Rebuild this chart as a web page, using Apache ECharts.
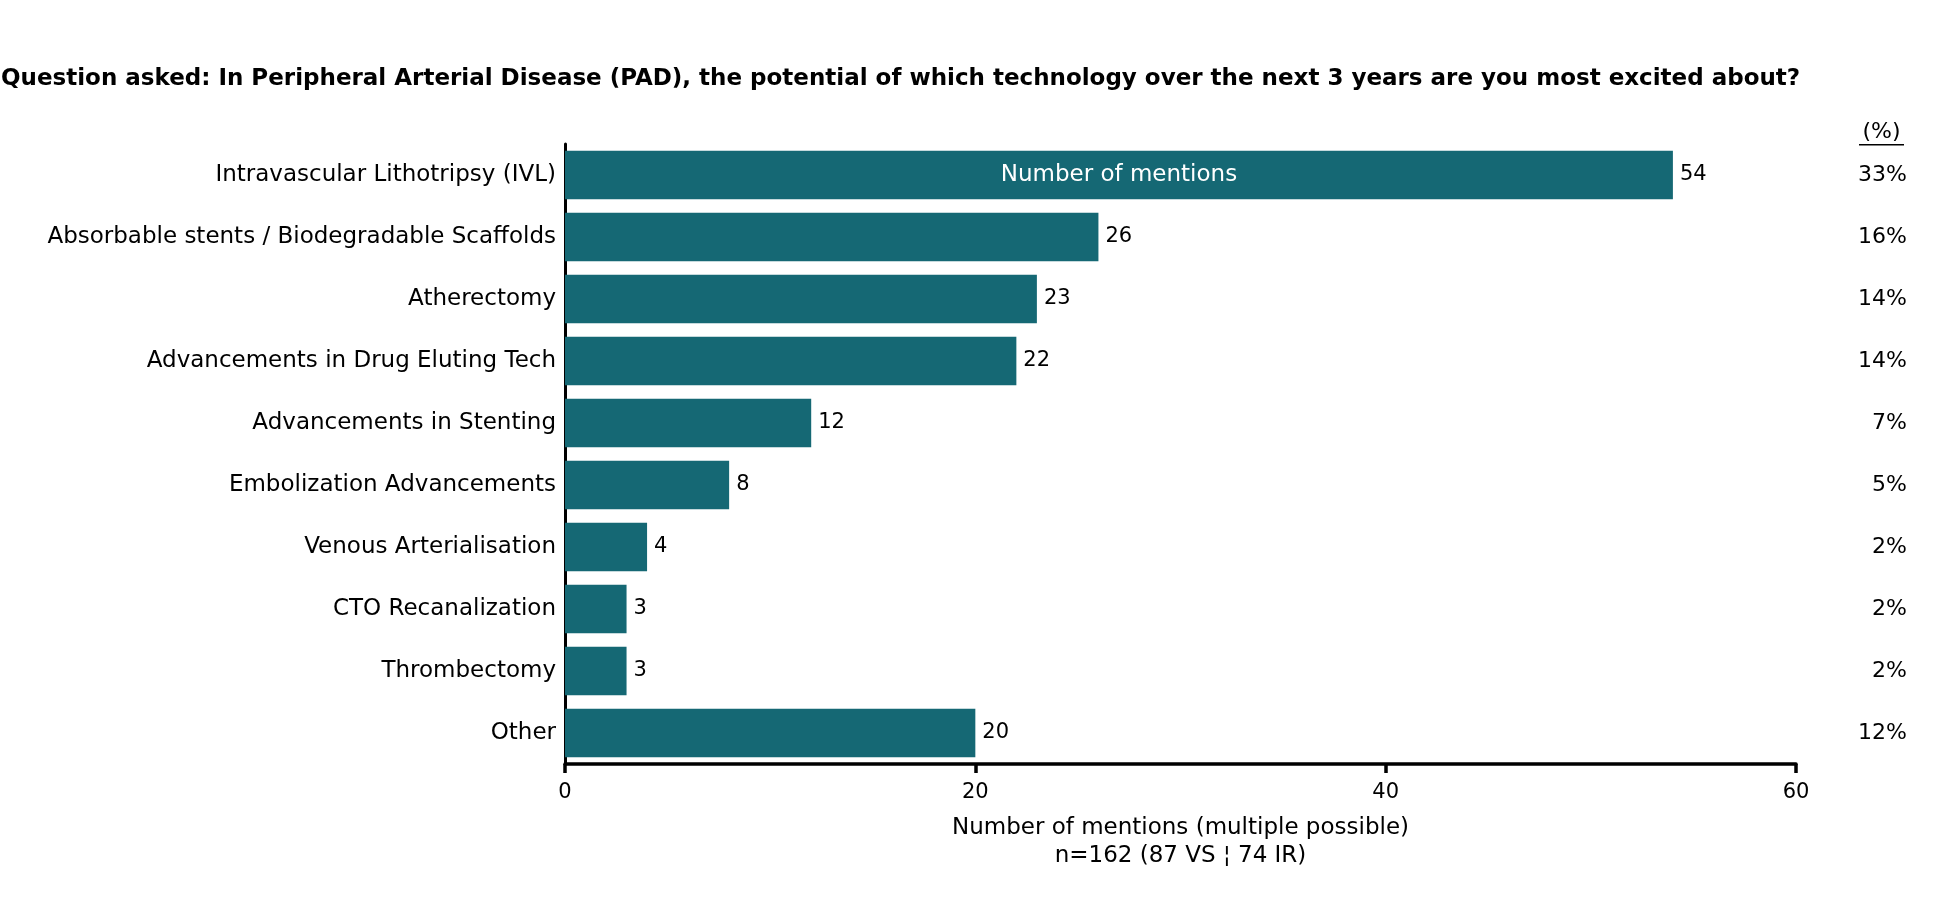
<!DOCTYPE html>
<html>
<head>
<meta charset="utf-8">
<script src="https://cdn.jsdelivr.net/npm/echarts@6/dist/echarts.min.js"></script>
<style>
html,body{margin:0;padding:0;background:#fff;}
#chart{width:1950px;height:903px;}
</style>
</head>
<body>
<div id="chart"></div>
<script>
const categories = [
  "Intravascular Lithotripsy (IVL)",
  "Absorbable stents / Biodegradable Scaffolds",
  "Atherectomy",
  "Advancements in Drug Eluting Tech",
  "Advancements in Stenting",
  "Embolization Advancements",
  "Venous Arterialisation",
  "CTO Recanalization",
  "Thrombectomy",
  "Other"
];
const mentions = [54, 26, 23, 22, 12, 8, 4, 3, 3, 20];
const percentLabels = ["33%", "16%", "14%", "14%", "7%", "5%", "2%", "2%", "2%", "12%"];
const xTicks = [0, 20, 40, 60];
const titleText = "Question asked: In Peripheral Arterial Disease (PAD), the potential of which technology over the next 3 years are you most excited about?";
const xAxisName = "Number of mentions (multiple possible)\nn=162 (87 VS \u00A6 74 IR)";
const seriesName = "Number of mentions";
const percentHeader = "(%)";

const FONT = "DejaVu Sans";
const BAR = "#156874";

const chart = echarts.init(document.getElementById('chart'));
chart.setOption({
  backgroundColor: '#fff',
  animation: false,
  textStyle: { fontFamily: FONT },
  title: {
    text: titleText,
    left: 1, top: 68, padding: 0,
    textStyle: { fontFamily: FONT, fontWeight: 'bold', fontSize: 23, color: '#000' }
  },
  grid: { left: 565, right: 154, top: 144, bottom: 139, containLabel: false },
  xAxis: {
    type: 'value',
    min: xTicks[0], max: xTicks[xTicks.length - 1], interval: 20,
    axisLine: { show: true, lineStyle: { color: '#000', width: 3.5 } },
    axisTick: { show: true, length: 9, lineStyle: { color: '#000', width: 3.5 } },
    splitLine: { show: false },
    axisLabel: { color: '#000', fontSize: 21, margin: 18, fontFamily: FONT },
    name: xAxisName,
    nameLocation: 'middle',
    nameGap: 50,
    nameTextStyle: { color: '#000', fontSize: 23, lineHeight: 28, fontFamily: FONT, verticalAlign: 'top' }
  },
  yAxis: [{
    type: 'category',
    data: categories,
    inverse: true,
    axisLine: { show: true, lineStyle: { color: '#000', width: 3 } },
    axisTick: { show: false },
    axisLabel: { color: '#000', fontSize: 23, margin: 9, fontFamily: FONT }
  }, {
    type: 'category',
    data: percentLabels,
    inverse: true,
    position: 'right',
    axisLine: { show: false },
    axisTick: { show: false },
    axisLabel: { color: '#000', fontSize: 22, margin: 111, align: 'right', fontFamily: FONT }
  }],
  series: [{
    name: seriesName,
    type: 'bar',
    data: mentions,
    barCategoryGap: '22%',
    itemStyle: { color: BAR },
    label: { show: true, position: 'right', distance: 7, color: '#000', fontSize: 21, fontFamily: FONT },
    silent: true
  }, {
    name: seriesName + ' overlay',
    type: 'bar',
    data: mentions,
    barGap: '-100%',
    barCategoryGap: '22%',
    itemStyle: { color: 'rgba(0,0,0,0)' },
    label: {
      show: true, position: 'inside', color: '#fff', fontSize: 23, fontFamily: FONT,
      formatter: p => p.dataIndex === 0 ? seriesName : ''
    },
    silent: true
  }],
  graphic: [{
    type: 'group',
    right: 46, top: 121,
    children: [{
      type: 'text',
      x: 22.5, y: 0,
      style: { text: percentHeader, fill: '#000', font: '22px "DejaVu Sans"', textAlign: 'center' }
    }, {
      type: 'rect',
      shape: { x: 0, y: 23, width: 45, height: 1.5 },
      style: { fill: '#000' }
    }]
  }]
});
</script>
</body>
</html>
